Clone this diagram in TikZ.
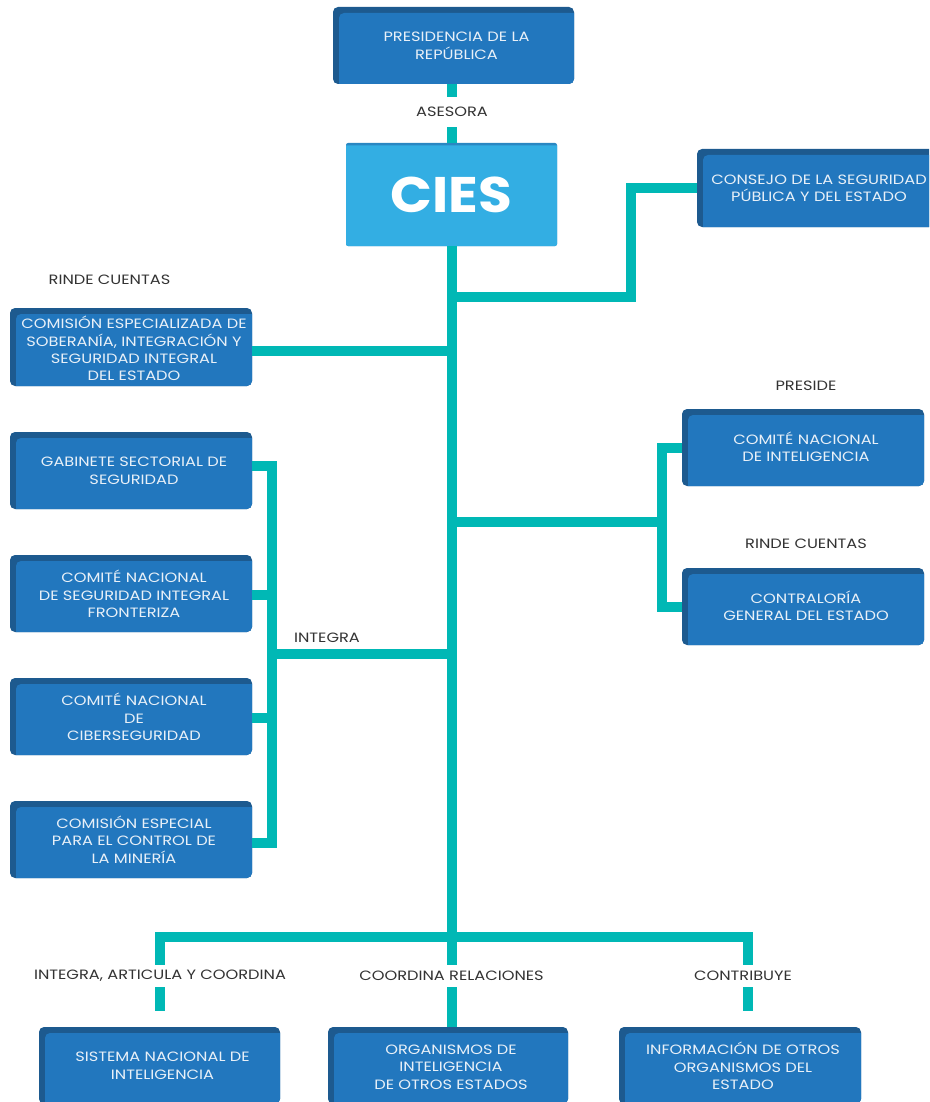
\documentclass[tikz,border=0pt]{standalone}
\usepackage{fontspec}
\setmainfont{Poppins}[FakeStretch=1.2]
\newfontfamily\ciesfont{Poppins}[FakeStretch=1.1]
\usetikzlibrary{calc}
\definecolor{boxblue}{HTML}{2277BE}
\definecolor{boxdark}{HTML}{1D5A8F}
\definecolor{ciesblue}{HTML}{33AEE3}
\definecolor{ciesdark}{HTML}{2A87C2}
\definecolor{linecol}{HTML}{00B8B5}
\definecolor{labcol}{HTML}{333333}
\definecolor{boxtext}{HTML}{E8F0F8}
\newcommand\obfont{\fontsize{13.5}{17.3}\selectfont}
\newcommand\bt[2][1.5pt]{\hspace*{6pt}\raisebox{-#1}[\height][\depth]{\begin{tabular}{@{}c@{}}#2\end{tabular}}}
\tikzset{
  orgbox/.style={rectangle, rounded corners=5pt, fill=boxdark, minimum width=#1,
    minimum height=77pt, inner sep=0pt, text=boxtext, font=\obfont,
    path picture={\fill[boxblue, rounded corners=5pt]
      ([xshift=6pt,yshift=-6pt]path picture bounding box.north west) rectangle
      ([xshift=10pt,yshift=-10pt]path picture bounding box.south east);}},
  ciesbox/.style={rectangle, rounded corners=2pt, fill=ciesdark, minimum width=211pt,
    minimum height=103pt, inner sep=0pt, text=white,
    font=\ciesfont\fontsize{50}{52}\selectfont\bfseries,
    path picture={\fill[ciesblue]
      ([xshift=-10pt,yshift=-2.5pt]path picture bounding box.north west) rectangle
      ([xshift=10pt,yshift=-10pt]path picture bounding box.south east);}},
  lab/.style={inner sep=0pt, text=labcol, font=\obfont},
  conn/.style={draw=linecol, line width=10pt, line join=miter},
}
\begin{document}
\begin{tikzpicture}[x=1pt,y=-1pt]
\useasboundingbox (0,0) rectangle (929,1102);
\clip (0,0) rectangle (929,1102);
% boxes
\node[orgbox=241pt] (pres) at (453.5,45.5) {\bt{PRESIDENCIA DE LA\\REPÚBLICA}};
\node[ciesbox] (cies) at (451.5,194.5) {CIES};
\node[orgbox=238pt, minimum height=78pt] (consejo) at (816,188) {\bt{CONSEJO DE LA SEGURIDAD\\PÚBLICA Y DEL ESTADO}};
\node[orgbox=242pt, minimum height=78pt] (comesp) at (131,347) {\bt[4pt]{COMISIÓN ESPECIALIZADA DE\\SOBERANÍA, INTEGRACIÓN Y\\SEGURIDAD INTEGRAL\\DEL ESTADO}};
\node[orgbox=242pt] (gab) at (131,470.5) {\bt{GABINETE SECTORIAL DE\\SEGURIDAD}};
\node[orgbox=242pt] (front) at (131,593.5) {\bt[3pt]{COMITÉ NACIONAL\\DE SEGURIDAD INTEGRAL\\FRONTERIZA}};
\node[orgbox=242pt] (ciber) at (131,716.5) {\bt[3pt]{COMITÉ NACIONAL\\DE\\CIBERSEGURIDAD}};
\node[orgbox=242pt] (mineria) at (131,839.5) {\bt[3pt]{COMISIÓN ESPECIAL\\PARA EL CONTROL DE\\LA MINERÍA}};
\node[orgbox=242pt] (cni) at (803,447.5) {\bt{COMITÉ NACIONAL\\DE INTELIGENCIA}};
\node[orgbox=242pt] (contra) at (803,606.5) {\bt{CONTRALORÍA\\GENERAL DEL ESTADO}};
\node[orgbox=241pt] (sni) at (159.5,1065.5) {\bt{SISTEMA NACIONAL DE\\INTELIGENCIA}};
\node[orgbox=240pt] (org) at (448,1065.5) {\bt[3pt]{ORGANISMOS DE\\INTELIGENCIA\\DE OTROS ESTADOS}};
\node[orgbox=242pt] (info) at (740,1065.5) {\bt[3pt]{INFORMACIÓN DE OTROS\\ORGANISMOS DEL\\ESTADO}};
% labels
\node[lab, minimum height=30pt] (asesora) at (452,112) {ASESORA};
\node[lab] (rinde1) at (109.5,280) {RINDE CUENTAS};
\node[lab] (integra) at (327,638) {INTEGRA};
\node[lab] (preside) at (806,386) {PRESIDE};
\node[lab] (rinde2) at (806,544) {RINDE CUENTAS};
\node[lab, minimum height=22pt] (intlab) at (160,976) {INTEGRA, ARTICULA Y COORDINA};
\node[lab, minimum height=22pt] (coordlab) at (451.5,976) {COORDINA RELACIONES};
\node[lab, minimum height=22pt] (contlab) at (743,976) {CONTRIBUYE};
% coordinates
\coordinate (jc) at (451.5,297);
\coordinate (lb) at (272,654);
\coordinate (rb) at (662,522);
\coordinate (bl) at (160,937);
\coordinate (br) at (748,937);
% connectors
\draw[conn] (pres.south -| asesora.north) -- (asesora.north);
\draw[conn] (asesora.south) -- (asesora.south |- cies.north);
\draw[conn] (cies.south) -- (cies.south |- coordlab.north);
\draw[conn] (coordlab.south) -- (coordlab.south |- org.north);
\draw[conn] (jc) -| ([xshift=-66pt]consejo.west) -- (consejo.west);
\draw[conn] ([yshift=-4pt]comesp.east) -- ([yshift=-4pt]comesp.east -| cies.south);
\draw[conn] ([yshift=4.5pt]gab.east) -| ([xshift=20pt,yshift=-3.5pt]mineria.east) -- ([yshift=-3.5pt]mineria.east);
\draw[conn] ([yshift=-1.5pt]front.east) -- ([xshift=20pt,yshift=-1.5pt]front.east);
\draw[conn] ([yshift=-1.5pt]ciber.east) -- ([xshift=20pt,yshift=-1.5pt]ciber.east);
\draw[conn] (lb) -- (lb -| cies.south);
\draw[conn] (cni.west) -| ([xshift=-20pt]contra.west) -- (contra.west);
\draw[conn] (rb) -- (rb -| cies.south);
\draw[conn] (intlab.north) -- (bl) -- (br) -- (br |- contlab.north);
\draw[conn] (intlab.south) -- ([yshift=16pt]sni.north -| intlab.south);
\draw[conn] (br |- contlab.south) -- ([yshift=16pt]info.north -| br);
\end{tikzpicture}
\end{document}
